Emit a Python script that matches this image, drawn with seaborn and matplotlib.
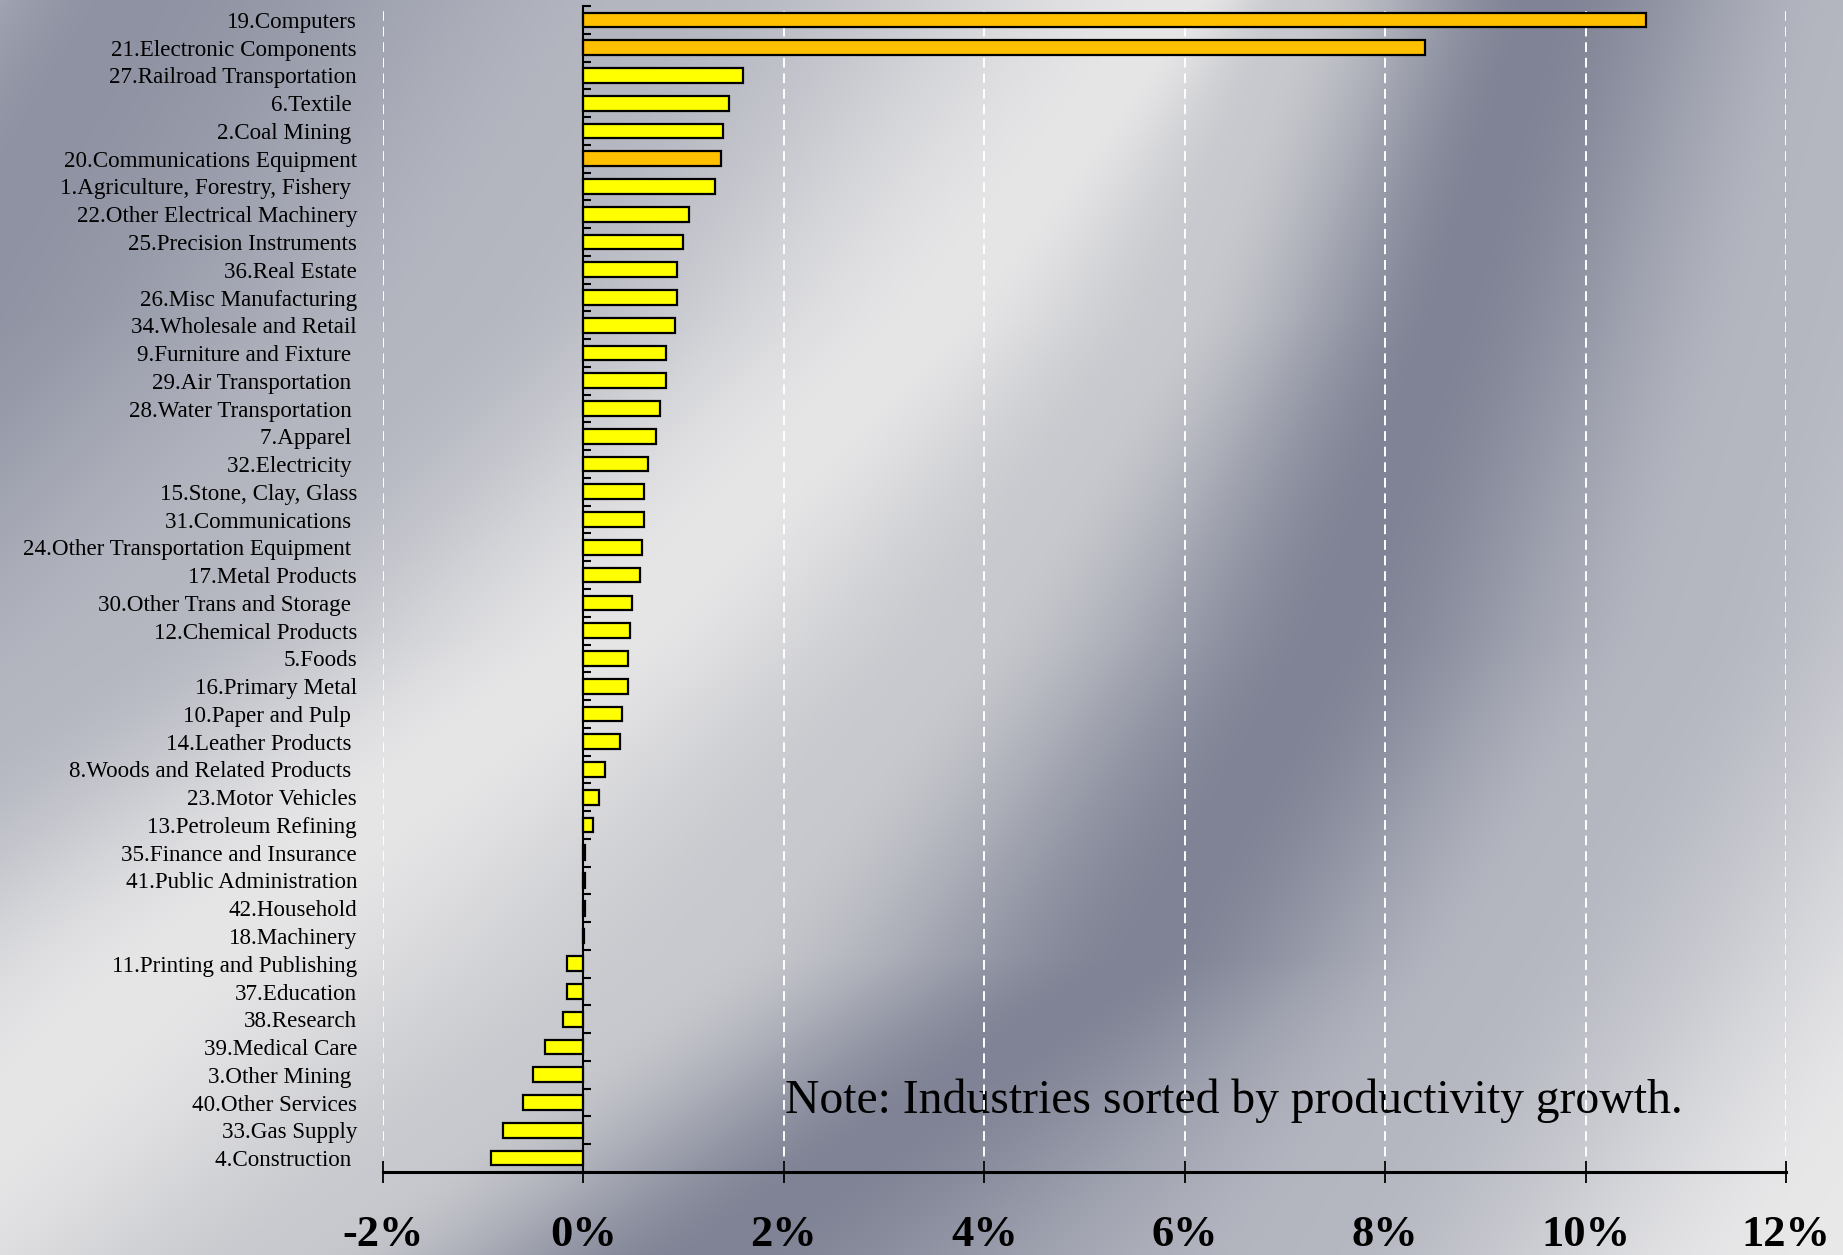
import numpy as np
import pandas as pd
import matplotlib
matplotlib.use("Agg")
import matplotlib.pyplot as plt
import seaborn as sns

# ---- data: average annual productivity growth by industry (%) ----
industries = [
    "19.Computers", "21.Electronic Components", "27.Railroad Transportation",
    "6.Textile ", "2.Coal Mining ", "20.Communications Equipment",
    "1.Agriculture, Forestry, Fishery ", "22.Other Electrical Machinery",
    "25.Precision Instruments", "36.Real Estate", "26.Misc Manufacturing",
    "34.Wholesale and Retail", "9.Furniture and Fixture ", "29.Air Transportation ",
    "28.Water Transportation ", "7.Apparel ", "32.Electricity ",
    "15.Stone, Clay, Glass", "31.Communications ", "24.Other Transportation Equipment ",
    "17.Metal Products", "30.Other Trans and Storage ", "12.Chemical Products",
    "5.Foods", "16.Primary Metal", "10.Paper and Pulp ", "14.Leather Products ",
    "8.Woods and Related Products ", "23.Motor Vehicles", "13.Petroleum Refining",
    "35.Finance and Insurance", "41.Public Administration", "42.Household",
    "18.Machinery", "11.Printing and Publishing", "37.Education", "38.Research",
    "39.Medical Care", "3.Other Mining ", "40.Other Services", "33.Gas Supply",
    "4.Construction ",
]
growth = [
    10.60, 8.40, 1.59, 1.45, 1.39, 1.37, 1.31, 1.05, 0.99, 0.93, 0.93,
    0.91, 0.82, 0.82, 0.76, 0.72, 0.64, 0.60, 0.60, 0.58, 0.56, 0.48,
    0.46, 0.44, 0.44, 0.38, 0.36, 0.22, 0.16, 0.10, 0.02, 0.02, 0.02,
    0.01, -0.16, -0.16, -0.20, -0.38, -0.50, -0.60, -0.80, -0.92,
]
it_sectors = {"19.Computers", "21.Electronic Components", "20.Communications Equipment"}
sector = ["IT" if name in it_sectors else "Other" for name in industries]
x_ticks = [-2, 0, 2, 4, 6, 8, 10, 12]
x_tick_labels = [f"{v}%" for v in x_ticks]
note_text = "Note: Industries sorted by productivity growth."

df = pd.DataFrame({"industry": industries, "growth": growth, "sector": sector})

# ---- silver slide-style backdrop (diagonal light/dark sweeps) ----
W, H = 1843, 1255
row_pos = [0.0, 0.253, 0.51, 0.763, 1.0]
bands = [  # (rgb, x positions on the rows above, in 1568-wide units)
    ((179, 181, 192), [-100, -300, -600, -900, -1200]),
    ((142, 146, 162), [100, -60, -350, -700, -1000]),
    ((180, 182, 192), [560, 380, 100, -300, -600]),
    ((230, 230, 231), [1015, 800, 520, 150, -130]),
    ((200, 201, 206), [1100, 1000, 820, 600, 250]),
    ((127, 131, 149), [1310, 1230, 1130, 975, 600]),
    ((180, 182, 192), [1570, 1500, 1420, 1260, 1100]),
    ((232, 232, 233), [2100, 2000, 1850, 1700, 1520]),
]
band_rgb = np.array([b[0] for b in bands], dtype=float) / 255.0
cols = np.arange(W)
bg_img = np.zeros((H, W, 3))
for r in range(H):
    yf = r / (H - 1)
    xs = np.array([np.interp(yf, row_pos, b[1]) for b in bands]) * W / 1568.0
    idx = np.interp(cols, xs, np.arange(len(bands)))
    i0 = np.clip(np.floor(idx).astype(int), 0, len(bands) - 2)
    t = np.clip(idx - i0, 0, 1)
    t = t * t * (3 - 2 * t)
    bg_img[r] = band_rgb[i0] * (1 - t)[:, None] + band_rgb[i0 + 1] * t[:, None]

sns.set_theme(style="white")
plt.rcParams["font.family"] = ["Liberation Serif", "DejaVu Serif"]

fig = plt.figure(figsize=(W / 100, H / 100), dpi=100)
bg = fig.add_axes([0, 0, 1, 1])
bg.imshow(bg_img, aspect="auto", interpolation="bilinear")
bg.axis("off")
bg.set_zorder(0)

ax = fig.add_axes([383 / W, 1 - 1172 / H, (1786 - 383) / W, (1172 - 6) / H])
ax.set_zorder(1)
ax.patch.set_alpha(0)

sns.barplot(
    data=df, x="growth", y="industry", hue="sector", orient="h",
    palette={"IT": "#FFC000", "Other": "#FFFF00"}, saturation=1, dodge=False,
    width=0.53, edgecolor="black", linewidth=1.6, legend=False, ax=ax, zorder=3,
)

ax.set_xlim(-2, 12)
ax.set_ylim(len(industries) - 0.5, -0.5)
ax.set_xlabel("")
ax.set_ylabel("")

# axes lines
for side in ("top", "right"):
    ax.spines[side].set_visible(False)
ax.spines["left"].set_position(("data", 0))
ax.spines["left"].set_linewidth(1.5)
ax.spines["left"].set_color("black")
ax.spines["left"].set_zorder(4)
ax.spines["bottom"].set_linewidth(2.2)
ax.spines["bottom"].set_color("black")

# x axis
ax.set_xticks(x_ticks)
ax.set_xticklabels(x_tick_labels)
ax.tick_params(axis="x", direction="inout", length=16, width=1.3, color="black",
               pad=23, labelsize=32, labelcolor="black", bottom=True)
for lab in ax.get_xticklabels():
    lab.set_fontweight("bold")

# y axis: labels far left, short ticks between categories
ax.set_yticks(range(len(industries)))
ax.set_yticklabels(industries)
ax.tick_params(axis="y", which="major", length=0, pad=163, labelsize=16.6,
               labelcolor="black", left=True)
ax.set_yticks(np.arange(-0.5, len(industries), 1), minor=True)
ax.tick_params(axis="y", which="minor", direction="in", length=6, width=1.5,
               color="black", left=True)

# dashed white vertical gridlines
ax.set_axisbelow(True)
ax.grid(axis="x", color="white", linestyle=(0, (5, 3)), linewidth=1.4)
ax.grid(axis="y", visible=False)

ax.text(0.2865, 0.0509, note_text, transform=ax.transAxes, ha="left",
        va="baseline", fontsize=34.3, color="black", zorder=0.4)

fig.savefig("out.png", dpi=100)
